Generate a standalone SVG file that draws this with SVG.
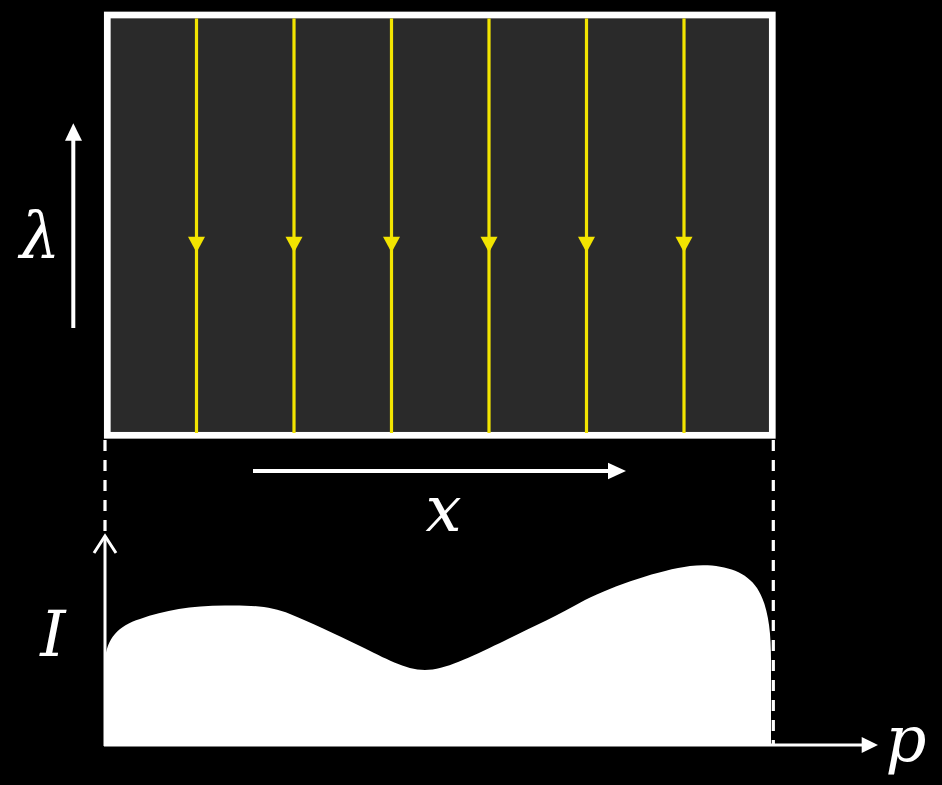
<svg xmlns="http://www.w3.org/2000/svg" width="942" height="785" viewBox="0 0 942 785">
<style>
.lbl{font-family:'DejaVu Serif',serif;font-style:italic;font-size:64px;fill:#fff;text-anchor:middle}
.ray{stroke:#f2e400;stroke-width:3.2;fill:none}
.head{fill:#f2e400}
.wl{stroke:#fff;fill:none}
.dash{stroke:#fff;stroke-width:3.2;stroke-dasharray:11 9;fill:none}
</style>
<rect x="0" y="0" width="942" height="785" fill="#000"/>
<g id="panel">
<rect x="107.3" y="15" width="665" height="420.3" fill="#2a2a2a" stroke="#fff" stroke-width="6.7"/>
</g>
<g id="rays">
<g id="ray1"><line class="ray" x1="196.5" y1="18.5" x2="196.5" y2="433"/><polygon class="head" points="188,236.7 205,236.7 196.5,252.5"/></g>
<g id="ray2"><line class="ray" x1="294" y1="18.5" x2="294" y2="433"/><polygon class="head" points="285.5,236.7 302.5,236.7 294,252.5"/></g>
<g id="ray3"><line class="ray" x1="391.5" y1="18.5" x2="391.5" y2="433"/><polygon class="head" points="383,236.7 400,236.7 391.5,252.5"/></g>
<g id="ray4"><line class="ray" x1="489" y1="18.5" x2="489" y2="433"/><polygon class="head" points="480.5,236.7 497.5,236.7 489,252.5"/></g>
<g id="ray5"><line class="ray" x1="586.5" y1="18.5" x2="586.5" y2="433"/><polygon class="head" points="578,236.7 595,236.7 586.5,252.5"/></g>
<g id="ray6"><line class="ray" x1="684" y1="18.5" x2="684" y2="433"/><polygon class="head" points="675.5,236.7 692.5,236.7 684,252.5"/></g>
</g>
<g id="connectors">
<line class="wl" x1="73.3" y1="328" x2="73.3" y2="139" stroke-width="4"/>
<polygon points="65,140.7 73.3,123.3 82,140.7" fill="#fff"/>
<line class="wl" x1="253" y1="471" x2="610" y2="471" stroke-width="4"/>
<polygon points="608,462.7 626,471 608,479.3" fill="#fff"/>
<line class="dash" x1="105" y1="440" x2="105" y2="535"/>
<line class="dash" x1="773.3" y1="440" x2="773.3" y2="745"/>
<line class="wl" x1="105" y1="536" x2="105" y2="746" stroke-width="3"/>
<polyline class="wl" points="94,553 105,536 116,553" stroke-width="3"/>
<line class="wl" x1="104" y1="745" x2="863" y2="745" stroke-width="3"/>
<polygon points="861.7,737 878,745 861.7,753" fill="#fff"/>
</g>
<g id="profile">
<path d="M105,745 L105,660 C107,638 118,626 140,619 C165,610 190,606 225,605.5 C255,605 272,607 290,614 C310,622 335,634 360,646 C385,658 405,670 425,670 C445,670 470,657 500,643 C530,628 555,617 585,600 C615,585 660,570 690,566 C720,563 745,570 757,588 C768,605 771,630 771,660 L771,745 Z" fill="#fff"/>
</g>
<g id="labels">
<text class="lbl" x="40" y="257">λ</text>
<text class="lbl" x="443.5" y="531">x</text>
<text class="lbl" x="53" y="656">I</text>
<text class="lbl" x="906" y="761">p</text>
</g>
</svg>
